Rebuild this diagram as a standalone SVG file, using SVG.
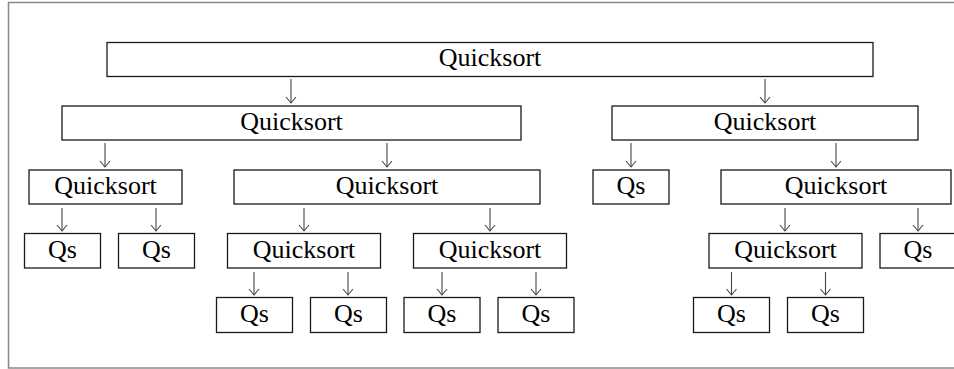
<svg xmlns="http://www.w3.org/2000/svg" width="954" height="369" viewBox="0 0 954 369">
<defs>
<style>
.box{fill:#fff;stroke:#1a1a1a;stroke-width:1.3}
.lbl{font-family:'Liberation Serif','Times New Roman',Tinos,'DejaVu Serif',serif;font-size:26px;fill:#000;text-anchor:middle}
.arr{stroke:#444;stroke-width:1.1;fill:none}
</style>
<marker id="ah" markerWidth="10" markerHeight="12" refX="8" refY="6" orient="auto" markerUnits="userSpaceOnUse" viewBox="0 0 10 12">
<path d="M2,1 L8,6 L2,11" fill="none" stroke="#444" stroke-width="1.1"/>
</marker>
</defs>
<rect x="0" y="0" width="954" height="369" fill="#fff"/>
<rect x="8.5" y="2.5" width="960" height="365.5" fill="none" stroke="#888" stroke-width="1.5"/>

<g id="connectors">
<line class="arr" x1="291" y1="79" x2="291" y2="103" marker-end="url(#ah)"/>
<line class="arr" x1="765" y1="79" x2="765" y2="103" marker-end="url(#ah)"/>
<line class="arr" x1="105" y1="143" x2="105" y2="167" marker-end="url(#ah)"/>
<line class="arr" x1="387" y1="143" x2="387" y2="167" marker-end="url(#ah)"/>
<line class="arr" x1="631" y1="143" x2="631" y2="167" marker-end="url(#ah)"/>
<line class="arr" x1="836" y1="143" x2="836" y2="167" marker-end="url(#ah)"/>
<line class="arr" x1="62" y1="208" x2="62" y2="231" marker-end="url(#ah)"/>
<line class="arr" x1="156" y1="208" x2="156" y2="231" marker-end="url(#ah)"/>
<line class="arr" x1="304" y1="208" x2="304" y2="231" marker-end="url(#ah)"/>
<line class="arr" x1="490" y1="208" x2="490" y2="231" marker-end="url(#ah)"/>
<line class="arr" x1="785" y1="208" x2="785" y2="231" marker-end="url(#ah)"/>
<line class="arr" x1="918" y1="208" x2="918" y2="231" marker-end="url(#ah)"/>
<line class="arr" x1="254" y1="272" x2="254" y2="295" marker-end="url(#ah)"/>
<line class="arr" x1="348" y1="272" x2="348" y2="295" marker-end="url(#ah)"/>
<line class="arr" x1="442" y1="272" x2="442" y2="295" marker-end="url(#ah)"/>
<line class="arr" x1="536" y1="272" x2="536" y2="295" marker-end="url(#ah)"/>
<line class="arr" x1="731.5" y1="272" x2="731.5" y2="295" marker-end="url(#ah)"/>
<line class="arr" x1="825.5" y1="272" x2="825.5" y2="295" marker-end="url(#ah)"/>
</g>

<g id="n-root"><rect class="box" x="107" y="42.5" width="766" height="34"/><text class="lbl" x="490" y="65.5">Quicksort</text></g>

<g id="n-l2a"><rect class="box" x="62" y="106" width="459" height="34"/><text class="lbl" x="291.5" y="129.5">Quicksort</text></g>
<g id="n-l2b"><rect class="box" x="612" y="106" width="306" height="34"/><text class="lbl" x="765" y="129.5">Quicksort</text></g>

<g id="n-l3a"><rect class="box" x="29" y="170" width="153" height="34"/><text class="lbl" x="105.5" y="193.5">Quicksort</text></g>
<g id="n-l3b"><rect class="box" x="234" y="170" width="306" height="34"/><text class="lbl" x="387" y="193.5">Quicksort</text></g>
<g id="n-l3c"><rect class="box" x="593" y="170" width="76" height="34"/><text class="lbl" x="631" y="193.5">Qs</text></g>
<g id="n-l3d"><rect class="box" x="721" y="170" width="230" height="34"/><text class="lbl" x="836" y="193.5">Quicksort</text></g>

<g id="n-l4a"><rect class="box" x="24.5" y="233.5" width="76" height="34.5"/><text class="lbl" x="62.5" y="257.5">Qs</text></g>
<g id="n-l4b"><rect class="box" x="118.5" y="233.5" width="76" height="34.5"/><text class="lbl" x="156.5" y="257.5">Qs</text></g>
<g id="n-l4c"><rect class="box" x="227.5" y="233.5" width="153" height="34.5"/><text class="lbl" x="304" y="257.5">Quicksort</text></g>
<g id="n-l4d"><rect class="box" x="413.5" y="233.5" width="153" height="34.5"/><text class="lbl" x="490" y="257.5">Quicksort</text></g>
<g id="n-l4e"><rect class="box" x="709" y="233.5" width="153" height="34.5"/><text class="lbl" x="785.5" y="257.5">Quicksort</text></g>
<g id="n-l4f"><rect class="box" x="880" y="233.5" width="76" height="34.5"/><text class="lbl" x="918" y="257.5">Qs</text></g>

<g id="n-l5a"><rect class="box" x="216.5" y="297.5" width="76" height="35"/><text class="lbl" x="254.5" y="321.5">Qs</text></g>
<g id="n-l5b"><rect class="box" x="310.5" y="297.5" width="76" height="35"/><text class="lbl" x="348.5" y="321.5">Qs</text></g>
<g id="n-l5c"><rect class="box" x="404" y="297.5" width="76" height="35"/><text class="lbl" x="442" y="321.5">Qs</text></g>
<g id="n-l5d"><rect class="box" x="498" y="297.5" width="76" height="35"/><text class="lbl" x="536" y="321.5">Qs</text></g>
<g id="n-l5e"><rect class="box" x="693.5" y="297.5" width="76" height="35"/><text class="lbl" x="731.5" y="321.5">Qs</text></g>
<g id="n-l5f"><rect class="box" x="787.5" y="297.5" width="76" height="35"/><text class="lbl" x="825.5" y="321.5">Qs</text></g>
</svg>
